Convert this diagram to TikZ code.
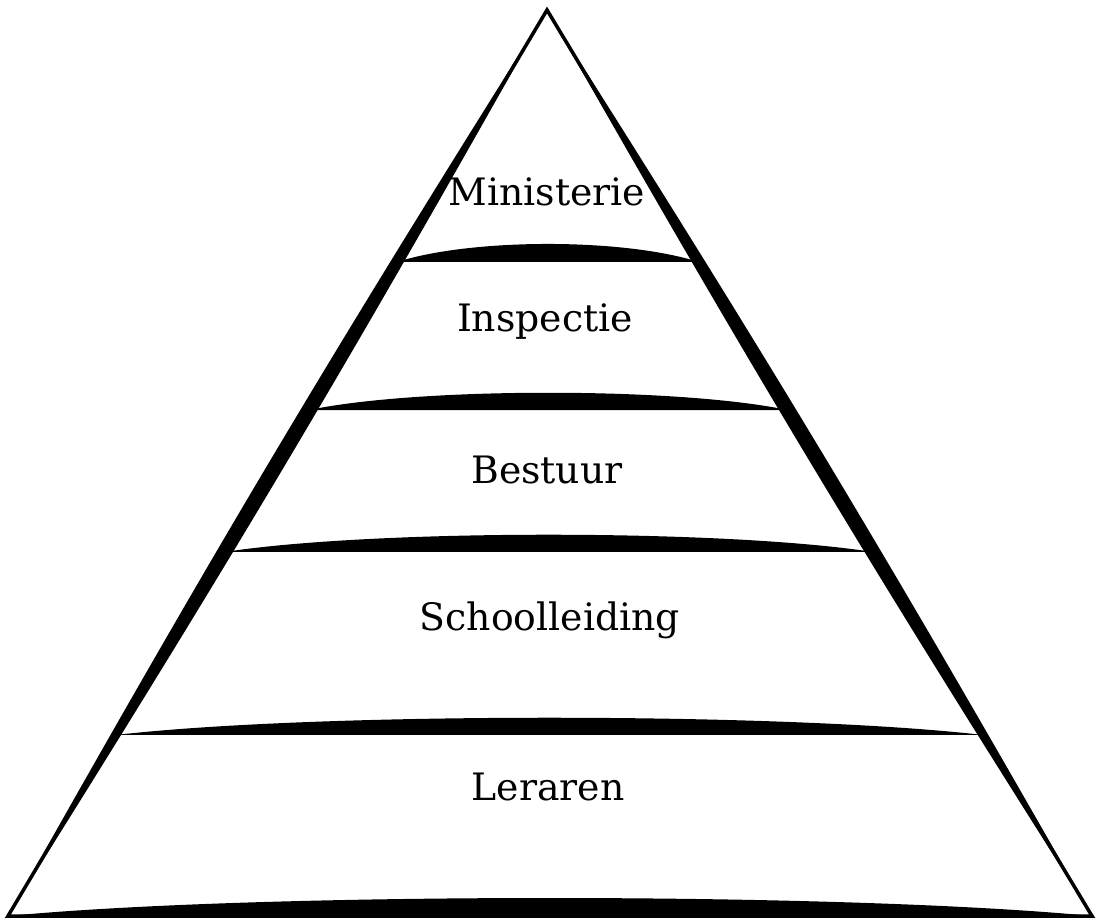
\documentclass[tikz,border=0pt]{standalone}
\usepackage{fontspec}
\setmainfont{DejaVu Serif}
\usetikzlibrary{calc}
\tikzset{
  layer/.style={fill=black},
  rim/.style={fill=black},
  lbl/.style={inner sep=0pt,font=\fontsize{21.5}{24}\selectfont}
}
\begin{document}
\begin{tikzpicture}[x=0.02cm,y=-0.02cm]
    \useasboundingbox (0,0) rectangle (1096,923);%

    \coordinate (T) at (547,10);%
    \coordinate (L) at (8,916);%
    \coordinate (R) at (1092,916);%

    % outline and the thick sides
    \draw[line width=2pt,line join=miter] (T) -- (L) -- (R) -- cycle;%
    \fill[rim] (T) to[bend left=1.4] (L) to[bend left=1.4] (T);%
    \fill[rim] (T) to[bend left=1.4] (R) to[bend left=1.4] (T);%

    % separators between the layers
    \fill[layer] ($(T)!0.2781!(L)$) .. controls +(75,-24) and +(-75,-24) .. ($(T)!0.2781!(R)$) -- cycle;%
    \fill[layer] ($(T)!0.4415!(L)$) .. controls +(110,-23) and +(-110,-23) .. ($(T)!0.4415!(R)$) -- cycle;%
    \fill[layer] ($(T)!0.5982!(L)$) .. controls +(150,-23) and +(-150,-23) .. ($(T)!0.5982!(R)$) -- cycle;%
    \fill[layer] ($(T)!0.8002!(L)$) .. controls +(200,-23) and +(-200,-23) .. ($(T)!0.8002!(R)$) -- cycle;%
    \fill[layer] (L) .. controls +(250,-24) and +(-250,-24) .. (R) -- cycle;%

    \node[lbl] (min) at (547,192) {Ministerie};%
    \node[lbl] (insp) at (545,322) {Inspectie};%
    \node[lbl] (best) at (547,470) {Bestuur};%
    \node[lbl] (school) at (550,620) {Schoolleiding};%
    \node[lbl] (ler) at (548,787) {Leraren};%
\end{tikzpicture}
\end{document}
